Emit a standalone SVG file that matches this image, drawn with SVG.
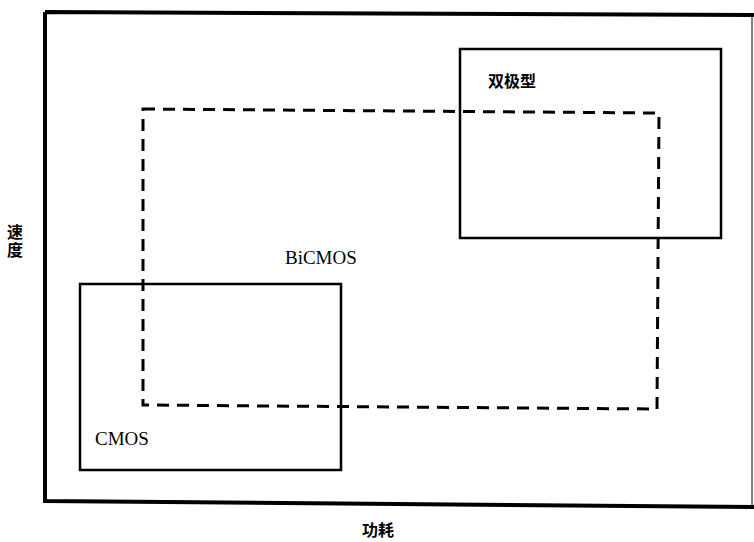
<svg xmlns="http://www.w3.org/2000/svg" width="754" height="542" viewBox="0 0 754 542">
<style>
.box{fill:none;stroke:#000;stroke-width:2.5}
.outer{fill:none;stroke:#000;stroke-width:4}
.dash{fill:none;stroke:#000;stroke-width:3;stroke-dasharray:12 8}
.en{font-family:"Liberation Serif",serif;font-size:19px;fill:#000}
.zh{font-family:"Noto Sans CJK SC",sans-serif;font-size:16px;font-weight:bold;fill:#000}
</style>
<rect width="754" height="542" fill="#fff"/>
<g id="frame"><path class="outer" d="M45,12 L754,15 M45,12 L45,501 L754,507"/><line x1="752" y1="15" x2="752" y2="506" stroke="#000" stroke-width="1"/></g>
<g id="connectors"></g>
<g id="bipolar"><rect class="box" x="460" y="49" width="261" height="189"/><text class="zh" x="488" y="87" font-size="17">双极型</text></g>
<g id="bicmos"><path class="dash" d="M143,109 L659,113 L657,409 L143,405 Z"/><text class="en" x="285" y="264">BiCMOS</text></g>
<g id="cmos"><rect class="box" x="80" y="284" width="261" height="186"/><text class="en" x="95" y="445">CMOS</text></g>
<g id="yaxis"><text class="zh" x="15" y="224" writing-mode="vertical-rl" letter-spacing="2">速度</text></g>
<g id="xaxis"><text class="zh" x="378" y="536" text-anchor="middle">功耗</text></g>
</svg>
